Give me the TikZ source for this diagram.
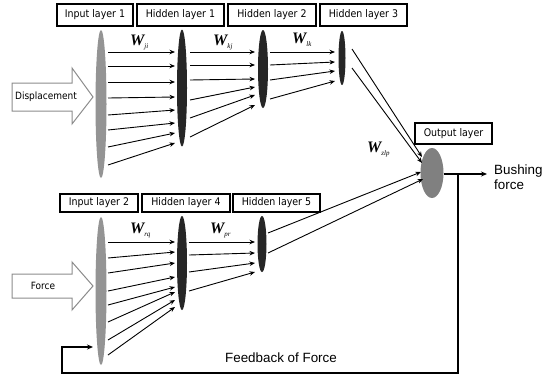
\documentclass[tikz,border=0pt]{standalone}
\usepackage{fontspec}
\setmainfont{Liberation Sans}
\newfontfamily\condfont{DejaVu Sans Condensed}
\newfontfamily\wserif{Liberation Serif}
\usetikzlibrary{shapes.geometric,calc,arrows.meta}
\newcommand\wlab[1]{{\wserif\bfseries\itshape\fontsize{16}{16}\selectfont W}{\wserif\itshape\fontsize{7}{7}\selectfont\raisebox{-3pt}{#1}}}
\begin{document}
\begin{tikzpicture}[x=1pt,y=-1pt,
  layerbox/.style={draw, line width=1.2pt, inner sep=0, font=\condfont\fontsize{10.5}{12}\selectfont},
  neuron/.style={ellipse, inner sep=0, draw=none},
  inneuron/.style={neuron, fill=black!42},
  hidneuron/.style={neuron, fill=black!85},
  conn/.style={line width=0.9pt, -{Stealth[length=5.5pt,width=4.5pt]}},
  bigarrow/.style={draw=black!45, line width=1pt, fill=white},
  arrowtext/.style={font=\condfont\fontsize{10}{12}\selectfont, inner sep=0},
  plaintext/.style={font=\fontsize{13.4}{15}\selectfont, inner sep=0},
  wtext/.style={inner sep=0, anchor=base west}]
\useasboundingbox (0,0) rectangle (546,378);
\fill[white] (0,0) rectangle (546,378);

% layer boxes
\node[layerbox, minimum width=76pt, minimum height=22pt] (b1) at (95,15) {Input layer 1};
\node[layerbox, minimum width=87pt, minimum height=22pt] (b2) at (180.5,15) {Hidden layer 1};
\node[layerbox, minimum width=88pt, minimum height=22pt] (b3) at (272,15) {Hidden layer 2};
\node[layerbox, minimum width=87pt, minimum height=22pt] (b4) at (363.5,15) {Hidden layer 3};
\node[layerbox, minimum width=77pt, minimum height=21pt] (bo) at (453.5,133.5) {Output layer};
\node[layerbox, minimum width=78pt, minimum height=18pt] (b5) at (99,203) {Input layer 2};
\node[layerbox, minimum width=88pt, minimum height=18pt] (b6) at (186,203) {Hidden layer 4};
\node[layerbox, minimum width=87pt, minimum height=18pt] (b7) at (276.5,203) {Hidden layer 5};

% neurons
\node[inneuron, minimum width=11pt, minimum height=148pt] (in1) at (101,104) {};
\node[hidneuron, minimum width=10pt, minimum height=117pt] (h1) at (182,88) {};
\node[hidneuron, minimum width=10pt, minimum height=78pt] (h2) at (263,69) {};
\node[hidneuron, minimum width=7pt, minimum height=54pt] (h3) at (342,58) {};
\node[inneuron, minimum width=11pt, minimum height=148pt] (in2) at (101,291) {};
\node[hidneuron, minimum width=10pt, minimum height=94pt] (h4) at (182,263) {};
\node[hidneuron, minimum width=9pt, minimum height=56pt] (h5) at (262,244) {};
\node[neuron, fill=black!50, minimum width=23pt, minimum height=50pt] (out) at (432,173) {};

% connections, upper network
\foreach \a/\b in {-52/-36,-38/-22,-22/-6,-6/9,11/22,26/35,43/45,61/55}
  \draw[conn] ($(in1)+(7,\a)$) -- ($(h1)+(-7,\b)$);
\foreach \a/\b in {-36/-17,-23/-4,-8/10,12/18,30/26,49/36}
  \draw[conn] ($(h1)+(8,\a)$) -- ($(h2)+(-8,\b)$);
\foreach \a/\b in {-17/-6,-4/4,11/13,30/23}
  \draw[conn] ($(h2)+(7,\a)$) -- ($(h3)+(-7,\b)$);
\draw[conn] ($(h3)+(10,-9)$) -- ($(out)+(-10,-16)$);
\draw[conn] ($(h3)+(10,10)$) -- ($(out)+(-10,-10)$);

% connections, lower network
\foreach \a/\b in {-49/-21,-33/-11,-18/0,0/14,14/24,31/29,49/37,64/44}
  \draw[conn] ($(in2)+(7,\a)$) -- ($(h4)+(-7,\b)$);
\foreach \a/\b in {-21/-2,-8/9,9/19,28/28}
  \draw[conn] ($(h4)+(7,\a)$) -- ($(h5)+(-7,\b)$);
\draw[conn] ($(h5)+(6,-11)$) -- ($(out)+(-11,-1)$);
\draw[conn] ($(h5)+(6,9)$) -- ($(out)+(-9,6)$);

% weights
\node[wtext] (wji) at (130,45) {\wlab{ji}};
\node[wtext] (wkj) at (213,45) {\wlab{kj}};
\node[wtext] (wlk) at (292,43) {\wlab{lk}};
\node[wtext] (wzlp) at (367,152) {\wlab{zlp}};
\node[wtext] (wrq) at (130,233) {\wlab{rq}};
\node[wtext] (wpr) at (210,233) {\wlab{pr}};

% input arrows
\draw[bigarrow] (12,83) -- (72,83) -- (72,68) -- (93,97) -- (72,124) -- (72,111) -- (12,111) -- cycle;
\node[arrowtext] (disp) at (46,97) {Displacement};
\draw[bigarrow] (12,274) -- (72,274) -- (72,262) -- (93,286) -- (72,310) -- (72,298) -- (12,298) -- cycle;
\node[arrowtext] (force) at (43,286) {Force};

% output and feedback
\coordinate (bush) at (487,174);
\coordinate (split) at (458,174);
\coordinate (fbend) at (93,347);
\draw[line width=1.3pt, -{Stealth[length=6pt,width=5pt]}] (out.east |- bush) -- (bush);
\draw[line width=1.5pt, -{Stealth[length=6pt,width=5pt]}] (split) -- (458,373) -- (62,373) -- (62,347) -- (fbend);
\node[plaintext, anchor=west, align=left] (bf) at (494,177) {Bushing\\force};
\node[plaintext] (fb) at (281,358) {Feedback of Force};
\end{tikzpicture}
\end{document}
